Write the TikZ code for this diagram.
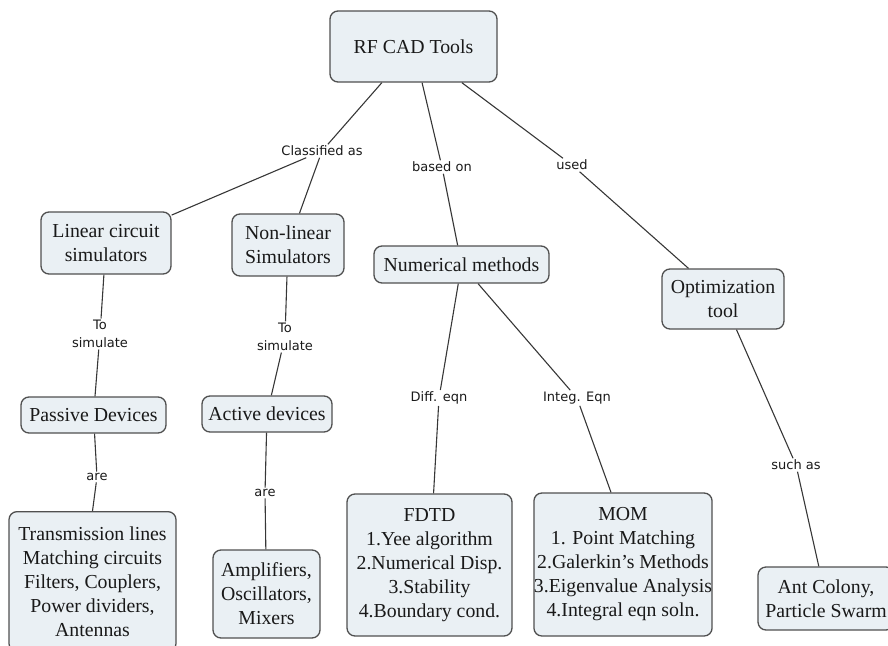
\documentclass[tikz,border=0pt]{standalone}
\usepackage{fontspec}
\setmainfont{Liberation Serif}
\newfontfamily\linkfont{DejaVu Sans}
\definecolor{boxfill}{RGB}{234,240,244}
\definecolor{boxline}{RGB}{80,80,80}
\definecolor{wire}{RGB}{55,55,55}
\definecolor{ink}{RGB}{25,25,25}
\begin{document}
\begin{tikzpicture}[x=1pt,y=-1pt,
  concept/.style={draw=boxline, fill=boxfill, line width=1.3pt, rounded corners=8pt,
    inner sep=0pt, align=center, text=ink,
    font=\fontsize{19.8}{24}\selectfont},
  linkphrase/.style={inner sep=1.5pt, align=center, text=ink,
    font=\linkfont\fontsize{13}{18}\selectfont},
  wireline/.style={draw=wire, line width=1.1pt}]
\useasboundingbox (0,0) rectangle (888,645);
\clip (0,0) rectangle (888,645);

% concepts
\node[concept, minimum width=167pt, minimum height=71pt] (rf) at (413.5,46.5) {RF CAD Tools};
\node[concept, minimum width=130pt, minimum height=62pt] (lin) at (106,243) {Linear circuit\\simulators};
\node[concept, minimum width=112pt, minimum height=62pt] (nonlin) at (288,245) {Non-linear\\Simulators};
\node[concept, minimum width=175pt, minimum height=37pt] (num) at (461.5,264.5) {Numerical methods};
\node[concept, minimum width=122pt, minimum height=60pt] (opt) at (723,299) {Optimization\\tool};
\node[concept, minimum width=145pt, minimum height=36pt] (pas) at (93.5,415) {Passive Devices};
\node[concept, minimum width=130pt, minimum height=36pt] (act) at (267,414) {Active devices};
\node[concept, minimum width=167pt, minimum height=140pt, anchor=north] (trans) at (92.5,511)
  {Transmission lines\\Matching circuits\\Filters, Couplers,\\Power dividers,\\Antennas};
\node[concept, minimum width=107pt, minimum height=88pt] (amp) at (266.5,594) {Amplifiers,\\Oscillators,\\Mixers};
\node[concept, minimum width=165pt, minimum height=142pt] (fdtd) at (429.5,565)
  {FDTD\\1.Yee algorithm\\2.Numerical Disp.\\3.Stability\\4.Boundary cond.};
\node[concept, minimum width=176pt, minimum height=143pt] (mom) at (623,564.5)
  {MOM\\1. Point Matching\\2.Galerkin’s Methods\\3.Eigenvalue Analysis\\4.Integral eqn soln.};
\node[concept, minimum width=136pt, minimum height=63pt] (ant) at (826,598.5) {Ant Colony,\\Particle Swarm};

% linking phrases
\node[linkphrase] (lclass) at (322,151) {Classified as};
\node[linkphrase] (lbased) at (442,167) {based on};
\node[linkphrase] (lused) at (572,165) {used};
\node[linkphrase] (lsim1) at (100,334) {To\\simulate};
\node[linkphrase] (lsim2) at (285,337) {To\\simulate};
\node[linkphrase] (lare1) at (97,477) {are};
\node[linkphrase] (lare2) at (265,493) {are};
\node[linkphrase] (ldiff) at (439,398) {Diff. eqn};
\node[linkphrase] (linteg) at (577,398) {Integ. Eqn};
\node[linkphrase] (lsuch) at (796,465) {such as};

% connectors: concept -- linking phrase -- concept
\draw[wireline] (rf) -- (lclass);
\draw[wireline] (lclass) -- (lin);
\draw[wireline] (lclass) -- (nonlin);
\draw[wireline] (rf) -- (lbased);
\draw[wireline] (lbased) -- (num);
\draw[wireline] (rf) -- (lused);
\draw[wireline] (lused) -- (opt);
\draw[wireline] (lin) -- (lsim1);
\draw[wireline] (lsim1) -- (pas);
\draw[wireline] (nonlin) -- (lsim2);
\draw[wireline] (lsim2) -- (act);
\draw[wireline] (pas) -- (lare1);
\draw[wireline] (lare1) -- (trans.north);
\draw[wireline] (act) -- (lare2);
\draw[wireline] (lare2) -- (amp);
\draw[wireline] (num) -- (ldiff);
\draw[wireline] (ldiff) -- (fdtd);
\draw[wireline] (num) -- (linteg);
\draw[wireline] (linteg) -- ([xshift=-12pt]mom.north);
\draw[wireline] (opt) -- (lsuch);
\draw[wireline] (lsuch) -- (ant);
\end{tikzpicture}
\end{document}
